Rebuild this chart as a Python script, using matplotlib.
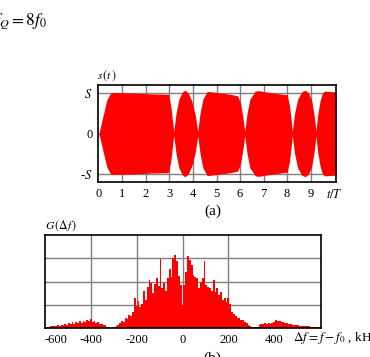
import numpy as np
import matplotlib
matplotlib.use('Agg')
import matplotlib.pyplot as plt

plt.rcParams['font.family'] = ['Liberation Serif', 'DejaVu Serif']
plt.rcParams['mathtext.fontset'] = 'stix'

# ---- (a) time signal envelope s(t), in units of S ----
t_env = [0.0, 0.1, 0.2, 0.33, 0.47, 0.6, 0.8, 1.5, 2.2, 2.95, 3.05, 3.12, 3.18,
         3.28, 3.4, 3.55, 3.66, 3.8, 3.95, 4.1, 4.2,
         4.3, 4.42, 4.6, 4.8, 5.2, 5.6, 5.9, 6.02, 6.12, 6.2,
         6.3, 6.42, 6.65, 6.8, 7.2, 7.7, 8.0, 8.1, 8.17, 8.22,
         8.32, 8.45, 8.62, 8.77, 8.92, 9.05, 9.15, 9.23,
         9.3, 9.4, 9.5, 9.6, 9.8, 10.08]
amp_env = [0.0, 0.25, 0.5, 0.82, 0.98, 1.02, 1.01, 1.0, 0.98, 0.97, 0.7, 0.35, 0.05,
           0.5, 0.85, 1.03, 1.07, 1.0, 0.8, 0.45, 0.05,
           0.5, 0.85, 1.04, 1.03, 1.0, 0.97, 0.93, 0.75, 0.4, 0.05,
           0.5, 0.85, 1.05, 1.06, 1.02, 0.98, 0.96, 0.7, 0.35, 0.05,
           0.5, 0.85, 1.03, 1.07, 1.0, 0.8, 0.45, 0.05,
           0.45, 0.8, 1.0, 1.05, 1.04, 1.03]
t_ticks = [0, 1, 2, 3, 4, 5, 6, 7, 8, 9, 10]
t_labels = ['0', '1', '2', '3', '4', '5', '6', '7', '8', '9', '$t/T$']
s_ticks = [-1, 0, 1]
s_labels = ['-$S$', '0', '$S$']

# ---- (b) spectrum G(Δf), kHz, 8 kHz bins from -600 to 600 ----
G_vals = [
    0.05, 0.06, 0.05, 0.08, 0.07, 0.10, 0.08, 0.12, 0.10, 0.14,   # -600..-528
    0.11, 0.17, 0.14, 0.20, 0.16, 0.24, 0.19, 0.27, 0.21, 0.29,   # -520..-448
    0.23, 0.32, 0.27, 0.36, 0.29, 0.40, 0.24, 0.29, 0.21, 0.25,   # -440..-368
    0.17, 0.19, 0.11, 0.12, 0.06, 0.04, 0.02, 0.03, 0.05, 0.08,   # -360..-288
    0.14, 0.20, 0.30, 0.26, 0.42, 0.38, 0.55, 0.50, 0.68, 1.30,   # -280..-208
    0.95, 1.15, 0.90, 1.05, 1.58, 1.20, 1.75, 2.05, 1.95, 1.50,   # -200..-128
    1.90, 2.15, 1.80, 2.95, 1.70, 1.95, 1.60, 2.15, 2.55, 2.20,   # -120..-48
    3.00, 3.12, 2.90, 2.25, 1.85, 1.00, 1.85, 2.40, 3.08, 2.92,   # -40..32
    2.70, 2.30, 2.20, 2.13, 1.70, 2.00, 2.15, 2.90, 1.85, 1.75,   # 40..112
    1.70, 1.60, 2.06, 1.55, 1.70, 1.40, 1.56, 1.20, 1.30, 1.10,   # 120..192
    1.27, 1.05, 0.70, 0.60, 0.50, 0.45, 0.42, 0.36, 0.33, 0.25,   # 200..272
    0.20, 0.12, 0.08, 0.05, 0.03, 0.03, 0.04, 0.12, 0.16, 0.18,   # 280..352
    0.20, 0.17, 0.21, 0.19, 0.22, 0.26, 0.33, 0.28, 0.30, 0.27,   # 360..432
    0.25, 0.22, 0.20, 0.17, 0.16, 0.13, 0.14, 0.11, 0.12, 0.10,   # 440..512
    0.09, 0.10, 0.08, 0.07, 0.07, 0.06, 0.05, 0.05, 0.04, 0.04,   # 520..592
    0.03,                                                         # 600
]
df_bin = 8
f_start = -600
f_vals = [f_start + df_bin * i for i in range(len(G_vals))]
f_ticks = [-600, -400, -200, 0, 200, 400]
f_labels = ['-600', '-400', '-200', '0', '200', '400']

W, H = 370, 357
fig = plt.figure(figsize=(W / 100, H / 100), dpi=100)

def box(l, t, r, b):
    return [l / W, 1 - b / H, (r - l) / W, (b - t) / H]

red = '#ff0000'
grid_c = '#808080'
fs = 9

# ---- top axes ----
ax1 = fig.add_axes(box(98, 85, 336, 182))
env = np.array(amp_env)
ax1.fill_between(t_env, -env, env, color=red, lw=0, zorder=2)
ax1.set_xlim(-0.04, 10.08)
ax1.set_ylim(-1.2, 1.2)
ax1.set_xticks(t_ticks)
ax1.set_xticklabels(t_labels, fontsize=fs)
ax1.set_yticks(s_ticks)
ax1.set_yticklabels(s_labels, fontsize=fs)
ax1.tick_params(length=0, pad=4)
ax1.grid(True, color=grid_c, lw=1, zorder=1)
ax1.set_axisbelow(True)
for sp in ax1.spines.values():
    sp.set_color('black'); sp.set_linewidth(1.2)
ax1.get_xgridlines()[-1].set_visible(False)
ax1.get_xgridlines()[0].set_visible(False)
fig.text(97 / W, 1 - 76 / H, '$s\\,(t\\,)$', fontsize=8.5, ha='left', va='center')
fig.text(213 / W, 1 - 211 / H, '(a)', fontsize=11, ha='center', va='center')

# ---- bottom axes ----
ax2 = fig.add_axes(box(45, 235, 320.7, 328))
ax2.bar(f_vals, G_vals, width=df_bin, color=red, lw=0, align='center', zorder=2)
ax2.set_xlim(-600, 603)
ax2.set_ylim(0, 4)
ax2.set_xticks(f_ticks)
ax2.set_xticklabels(f_labels, fontsize=fs)
ax2.get_xticklabels()[0].set_horizontalalignment('left')
ax2.set_yticks([1, 2, 3])
ax2.set_yticklabels([])
ax2.tick_params(length=0, pad=4)
ax2.grid(True, color=grid_c, lw=1, zorder=1)
ax2.set_axisbelow(True)
ax2.get_xgridlines()[0].set_visible(False)
ax2.get_xgridlines()[-1].set_visible(False)
for sp in ax2.spines.values():
    sp.set_color('black'); sp.set_linewidth(1.2)
fig.text(45 / W, 1 - 226 / H, r'$G\,(\Delta f\,)$', fontsize=8.5, ha='left', va='center')
fig.text(293 / W, 1 - 338 / H, r'$\Delta f = f - f_0$ , kHz', fontsize=9.5,
         ha='left', va='center')
fig.text(212 / W, 1 - 352 / H, '(b)', fontsize=11, ha='center', va='top')

# ---- top formula (partially cut off) ----
fig.text(-8 / W, 1 - 25 / H, r'$f_Q = 8f_0$', fontsize=12.5, ha='left',
         va='baseline')

fig.savefig('out.png', dpi=100)
